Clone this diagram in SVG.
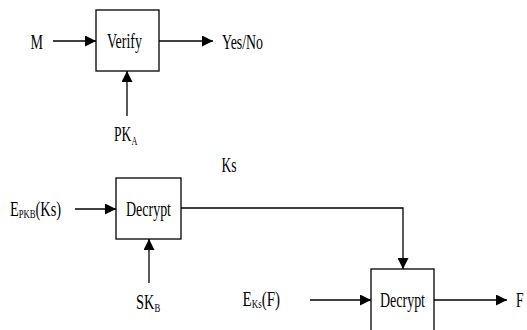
<svg xmlns="http://www.w3.org/2000/svg" width="527" height="330" viewBox="0 0 527 330">
<style>
.box{fill:#fff;stroke:#000;stroke-width:1.3}
.ln{fill:none;stroke:#000;stroke-width:1.3;marker-end:url(#ah)}
text{font-family:"Liberation Serif","Times New Roman",serif;font-size:20px;fill:#000}
tspan.sub{font-size:12px}
</style>
<defs>
<marker id="ah" markerUnits="userSpaceOnUse" markerWidth="11" markerHeight="11" viewBox="0 0 11 11" refX="11" refY="5.5" orient="auto">
<path d="M0,0 L11,5.5 L0,11 Z" fill="#000"/>
</marker>
</defs>
<rect width="527" height="330" fill="#fff"/>
<g id="connectors">
<line class="ln" x1="53" y1="41" x2="96" y2="41"/>
<line class="ln" x1="159" y1="41" x2="213" y2="41"/>
<line class="ln" x1="127" y1="116" x2="127" y2="71"/>
<line class="ln" x1="75" y1="209" x2="116" y2="209"/>
<polyline class="ln" points="181,208 403,208 403,269"/>
<line class="ln" x1="149" y1="283" x2="149" y2="239"/>
<line class="ln" x1="310" y1="300" x2="371" y2="300"/>
<line class="ln" x1="434" y1="300" x2="507" y2="300"/>
</g>
<g id="verify">
<rect class="box" x="96" y="10" width="63" height="61"/>
<text x="107" y="48" textLength="35" lengthAdjust="spacingAndGlyphs">Verify</text>
</g>
<g id="decrypt1">
<rect class="box" x="116" y="178" width="65" height="61"/>
<text x="126" y="216" textLength="45" lengthAdjust="spacingAndGlyphs">Decrypt</text>
</g>
<g id="decrypt2">
<rect class="box" x="371" y="269" width="63" height="65"/>
<text x="380" y="307" textLength="45" lengthAdjust="spacingAndGlyphs">Decrypt</text>
</g>
<g id="label-m"><text x="30.5" y="49" textLength="12.5" lengthAdjust="spacingAndGlyphs">M</text></g>
<g id="label-yesno"><text x="222" y="49" textLength="41" lengthAdjust="spacingAndGlyphs">Yes/No</text></g>
<g id="label-pka"><text transform="translate(114,141) scale(0.68,1)">PK<tspan class="sub" dy="4">A</tspan></text></g>
<g id="label-ks"><text x="221.5" y="172" textLength="15" lengthAdjust="spacingAndGlyphs">Ks</text></g>
<g id="label-epkb"><text transform="translate(10,216) scale(0.72,1)">E<tspan class="sub" dy="2">PKB</tspan><tspan dy="-2">(Ks)</tspan></text></g>
<g id="label-skb"><text transform="translate(136,309) scale(0.72,1)">SK<tspan class="sub" dy="3">B</tspan></text></g>
<g id="label-eksf"><text transform="translate(242.5,306) scale(0.75,1)">E<tspan class="sub" dy="2">Ks</tspan><tspan dy="-2">(F)</tspan></text></g>
<g id="label-f"><text x="516" y="307" textLength="7.5" lengthAdjust="spacingAndGlyphs">F</text></g>
</svg>
